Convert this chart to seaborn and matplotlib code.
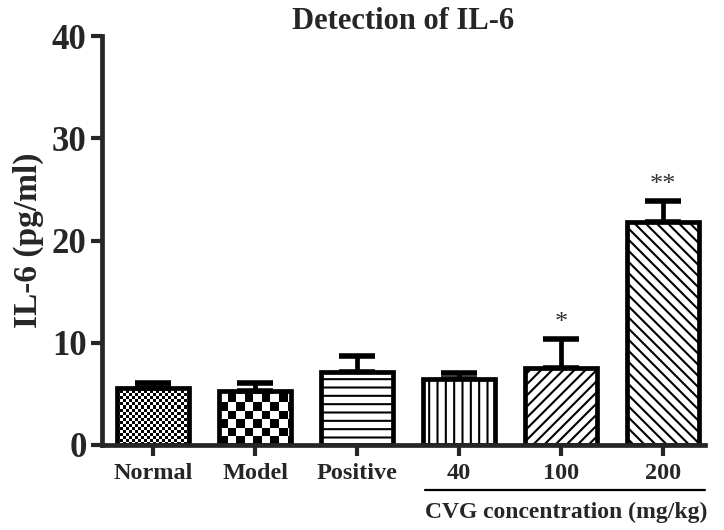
import numpy as np
import pandas as pd
import matplotlib
matplotlib.use("Agg")
import matplotlib.pyplot as plt
import seaborn as sns

categories = ["Normal", "Model", "Positive", "40", "100", "200"]
values = [5.6, 5.3, 7.1, 6.5, 7.5, 21.8]
errors = [0.5, 0.8, 1.6, 0.5, 2.9, 2.1]
stars = ["", "", "", "", "*", "**"]
yticks = [0, 10, 20, 30, 40]

sns.set_style("ticks")
plt.rcParams["font.family"] = ["Liberation Serif", "DejaVu Serif"]
plt.rcParams["font.weight"] = "bold"
plt.rcParams["hatch.linewidth"] = 1.5

fig = plt.figure(figsize=(7.24, 5.30), dpi=100)
ax = fig.add_axes([0.1409, 0.1604, 0.9738 - 0.1409, 0.932 - 0.1604])

df = pd.DataFrame({"group": categories, "value": values})
sns.barplot(data=df, x="group", y="value", color="white", edgecolor="black",
            linewidth=3.4, width=0.7, errorbar=None, ax=ax, saturation=1)

ax.set_xlim(-0.5, 5.41)
ax.set_ylim(0, 40)
ax.set_yticks(yticks)

# error bars (upper only)
xs = np.arange(len(categories))
ax.errorbar(xs, values, yerr=[np.zeros(len(errors)), errors], fmt="none",
            ecolor="black", elinewidth=3.4, capsize=13, capthick=4.0, zorder=0.8)

hatches = [None, None, "--", "||", "///", "\\\\\\"]
checker_px = {0: 3.0, 1: 8.5}
patches = list(ax.patches)
for i, p in enumerate(patches):
    if hatches[i]:
        p.set_hatch(hatches[i])
    if i in checker_px:
        p.set_facecolor("none")
        x0, y0 = p.get_x(), p.get_y()
        w, h = p.get_width(), p.get_height()
        (px0, py0), (px1, py1) = ax.transData.transform([(x0, y0), (x0 + w, y0 + h)])
        c = checker_px[i]
        nx = int(np.ceil((px1 - px0) / c))
        ny = int(np.ceil((py1 - py0) / c))
        arr = (np.add.outer(np.arange(ny), np.arange(nx)) % 2).astype(float)
        ext_w = nx * c / (px1 - px0) * w
        ext_h = ny * c / (py1 - py0) * h
        im = ax.imshow(arr, cmap="gray", vmin=0, vmax=1, interpolation="nearest",
                       extent=(x0, x0 + ext_w, y0, y0 + ext_h), origin="lower",
                       aspect="auto", zorder=0.5)
        im.set_clip_path(p)
ax.set_xlim(-0.5, 5.41)
ax.set_ylim(0, 40)

for i, s in enumerate(stars):
    if s:
        ax.text(xs[i], values[i] + errors[i] + 1.5, s, ha="center", va="center",
                fontsize=19, fontweight="normal", color="#333333")

sns.despine(ax=ax)
for sp in ["left", "bottom"]:
    ax.spines[sp].set_linewidth(3.4)
ax.tick_params(axis="both", width=3, length=8, direction="out", pad=3)
ax.tick_params(axis="y", labelsize=25)
ax.tick_params(axis="x", labelsize=17.5, pad=5)
for lab in ax.get_xticklabels() + ax.get_yticklabels():
    lab.set_fontweight("bold")

ax.set_xlabel("")
ax.set_ylabel("IL-6 (pg/ml)", fontsize=24, fontweight="bold", labelpad=6)
ax.set_title("Detection of IL-6", fontsize=22, fontweight="bold", pad=4)

# CVG bracket line and label
ax.plot([2.67, 5.41], [-0.11, -0.11], color="black", lw=1.6,
        transform=ax.get_xaxis_transform(), clip_on=False)
ax.text(4.05, -0.165, "CVG concentration (mg/kg)", transform=ax.get_xaxis_transform(),
        ha="center", va="center", fontsize=17, fontweight="bold")

fig.savefig("out.png", dpi=100)
